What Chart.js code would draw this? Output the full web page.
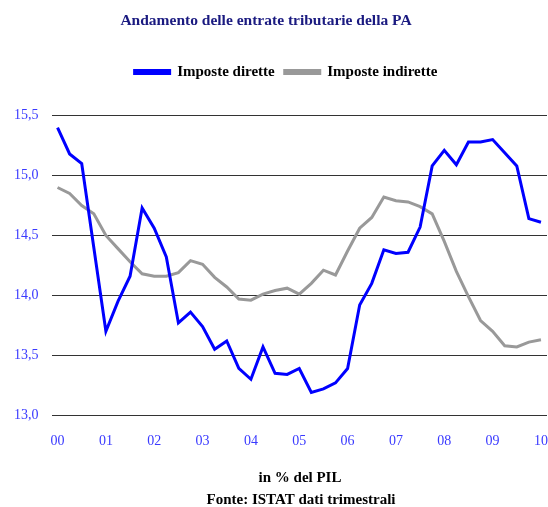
<!DOCTYPE html>
<html><head><meta charset="utf-8">
<script src="https://cdn.jsdelivr.net/npm/chart.js@4/dist/chart.umd.min.js"></script>
<style>html,body{margin:0;padding:0;background:#fff}</style>
</head><body>
<canvas id="c" width="548" height="507"></canvas>
<script>
const quarters = [
 '2000 T1','2000 T2','2000 T3','2000 T4','2001 T1','2001 T2','2001 T3','2001 T4',
 '2002 T1','2002 T2','2002 T3','2002 T4','2003 T1','2003 T2','2003 T3','2003 T4',
 '2004 T1','2004 T2','2004 T3','2004 T4','2005 T1','2005 T2','2005 T3','2005 T4',
 '2006 T1','2006 T2','2006 T3','2006 T4','2007 T1','2007 T2','2007 T3','2007 T4',
 '2008 T1','2008 T2','2008 T3','2008 T4','2009 T1','2009 T2','2009 T3','2009 T4',
 '2010 T1'];
const yearLabels = ['00','01','02','03','04','05','06','07','08','09','10'];
const imposteDirette = [
 15.40,15.18,15.10,14.40,13.70,13.95,14.16,14.73,14.56,14.32,13.77,13.86,
 13.74,13.55,13.62,13.39,13.30,13.57,13.35,13.34,13.39,13.19,13.22,13.27,
 13.39,13.92,14.10,14.38,14.35,14.36,14.57,15.08,15.21,15.09,15.28,15.28,
 15.30,15.19,15.08,14.64,14.61];
const imposteIndirette = [
 14.90,14.85,14.75,14.68,14.50,14.39,14.28,14.18,14.16,14.16,14.19,14.29,
 14.26,14.15,14.07,13.97,13.96,14.01,14.04,14.06,14.01,14.10,14.21,14.17,
 14.37,14.56,14.65,14.82,14.79,14.78,14.74,14.68,14.45,14.20,13.99,13.79,
 13.70,13.58,13.57,13.61,13.63];
const yMin = 13.0, yMax = 15.5, yStep = 0.5;
const titleText = 'Andamento delle entrate tributarie della PA';
const footerLines = ['in % del PIL', 'Fonte: ISTAT dati trimestrali'];

const serif = "'Liberation Serif', 'DejaVu Serif', serif";
const tickBlue = '#3a3aff';

const legendTweak = {
  id: 'legendTweak',
  beforeInit(chart) {
    const lg = chart.legend;
    const origFit = lg.fit;
    lg.fit = function () { origFit.call(this); this.height += 26; };
    const origDraw = lg.draw;
    lg.draw = function () {
      const ctx = this.ctx;
      ctx.save(); ctx.translate(12, 0); origDraw.apply(this, arguments); ctx.restore();
    };
  }
};

const textBlocks = {
  id: 'textBlocks',
  afterDraw(chart) {
    const ctx = chart.ctx;
    ctx.save();
    ctx.textAlign = 'center';
    ctx.textBaseline = 'middle';
    ctx.fillStyle = '#1a1a80';
    ctx.font = "bold 15.5px " + serif;
    ctx.fillText(titleText, 266, 21);
    ctx.fillStyle = '#000';
    ctx.font = "bold 15px " + serif;
    ctx.fillText(footerLines[0], 300, 478);
    ctx.fillText(footerLines[1], 301, 500);
    ctx.restore();
  }
};

new Chart(document.getElementById('c'), {
  type: 'line',
  data: {
    labels: quarters,
    datasets: [
      {label: 'Imposte dirette', data: imposteDirette, borderColor: '#0000ff', backgroundColor: '#0000ff',
       borderWidth: 3, pointRadius: 0, tension: 0, fill: false},
      {label: 'Imposte indirette', data: imposteIndirette, borderColor: '#999999', backgroundColor: '#999999',
       borderWidth: 3, pointRadius: 0, tension: 0, fill: false}
    ]
  },
  plugins: [legendTweak, textBlocks],
  options: {
    responsive: false, animation: false, devicePixelRatio: 1,
    layout: {padding: {left: 1, right: 1, top: 54.6, bottom: 57}},
    plugins: {
      tooltip: {enabled: false},
      title: {display: false},
      legend: {display: true, position: 'top',
        labels: {color: '#000', boxWidth: 35, boxHeight: 3, padding: 10,
          font: {family: serif, size: 15, weight: 'bold'}}}
    },
    scales: {
      x: {type: 'category', offset: true,
        grid: {display: false, drawTicks: true, tickLength: 18}, border: {display: false},
        ticks: {autoSkip: false, maxRotation: 0, padding: 0, color: tickBlue,
          font: {family: serif, size: 14},
          callback: (v, i) => (i % 4 === 0 ? yearLabels[i / 4] : '')}},
      y: {min: yMin, max: yMax,
        grid: {color: '#333', drawTicks: false, lineWidth: 1}, border: {display: false},
        ticks: {stepSize: yStep, padding: 13, color: tickBlue, font: {family: serif, size: 14},
          callback: v => v.toFixed(1).replace('.', ',')}}
    }
  }
});
</script>
</body></html>
